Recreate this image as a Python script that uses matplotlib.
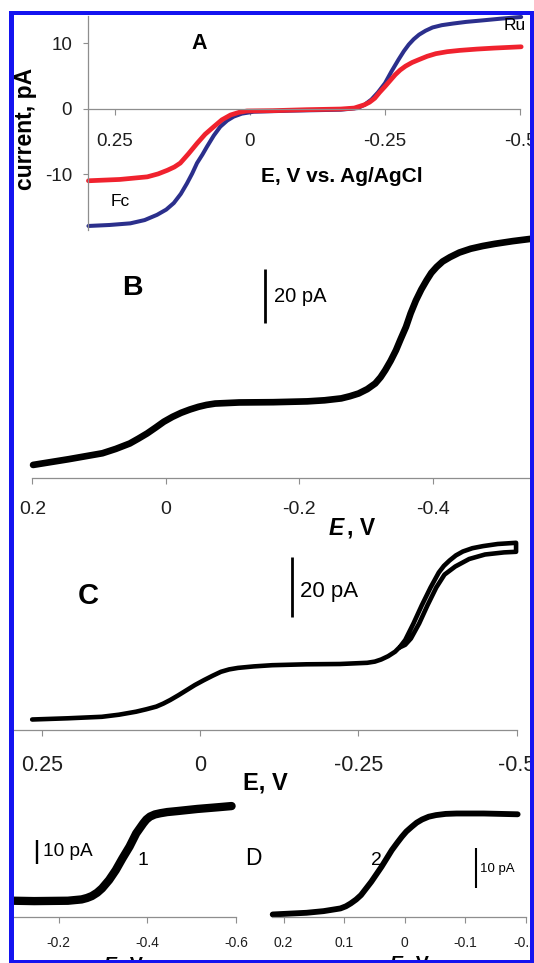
import matplotlib

matplotlib.use("Agg")

import matplotlib.pyplot as plt
from matplotlib.patches import Rectangle


# Panel A: steady-state voltammograms, two electrodes (pA vs V)
a_blue_E = [0.299, 0.26, 0.2215, 0.195, 0.172, 0.155, 0.141, 0.128, 0.1166, 0.107,
            0.098, 0.088, 0.0796, 0.067, 0.055, 0.042, 0.030, 0.015, -0.007, -0.04,
            -0.074, -0.168, -0.1995, -0.212, -0.2248, -0.237, -0.25, -0.262, -0.275,
            -0.285, -0.294, -0.303, -0.313, -0.325, -0.338, -0.355, -0.376, -0.40,
            -0.433, -0.465, -0.502]
a_blue_I = [-17.9, -17.75, -17.5, -17.0, -16.2, -15.4, -14.4, -13.0, -11.4, -9.9,
            -8.3, -7.0, -5.8, -4.1, -2.75, -1.8, -1.2, -0.75, -0.46, -0.38,
            -0.3, -0.15, 0.1, 0.6, 1.4, 2.5, 3.9, 5.7, 7.5,
            8.8, 9.8, 10.6, 11.3, 11.9, 12.4, 12.75, 13.0, 13.25,
            13.5, 13.75, 14.0]
a_red_E = [0.299, 0.241, 0.19, 0.17, 0.153, 0.14, 0.129, 0.114, 0.098, 0.083,
           0.067, 0.052, 0.036, 0.02, 0.0056, -0.042, -0.105, -0.168, -0.193,
           -0.212, -0.2215, -0.231, -0.24, -0.25, -0.26, -0.269, -0.278, -0.288,
           -0.30, -0.313, -0.328, -0.344, -0.365, -0.388, -0.42, -0.451, -0.502]
a_red_I = [-11.0, -10.8, -10.4, -9.95, -9.4, -8.9, -8.3, -6.9, -5.3, -3.9,
           -2.75, -1.7, -0.96, -0.55, -0.35, -0.3, -0.15, -0.05, 0.1,
           0.6, 1.0, 1.6, 2.5, 3.4, 4.35, 5.2, 5.9, 6.5,
           7.05, 7.5, 8.0, 8.4, 8.7, 8.9, 9.1, 9.25, 9.45]
a_xticks = [0.25, 0, -0.25, -0.5]
a_xlabels = ["0.25", "0", "-0.25", "-0.5"]
a_yticks = [-10, 0, 10]
a_ylabels = ["-10", "0", "10"]

# Panel B
b_E = [0.199, 0.146, 0.095, 0.075, 0.054, 0.041, 0.028, 0.015, 0.003, -0.01,
       -0.023, -0.036, -0.049, -0.061, -0.074, -0.110, -0.161, -0.212, -0.238,
       -0.263, -0.276, -0.289, -0.302, -0.314, -0.322, -0.329, -0.337, -0.345,
       -0.352, -0.360, -0.367, -0.375, -0.383, -0.391, -0.398, -0.406, -0.415,
       -0.426, -0.44, -0.457, -0.475, -0.493, -0.52, -0.549]
b_I = [4.7, 6.8, 9.0, 10.6, 12.6, 14.4, 16.3, 18.5, 20.6, 22.4,
       23.9, 25.1, 26.1, 26.8, 27.3, 27.7, 27.8, 28.1, 28.5,
       29.2, 30.0, 31.0, 32.6, 34.7, 37.0, 39.6, 43.0, 46.9,
       51.0, 55.5, 60.5, 65.3, 69.3, 72.7, 75.4, 77.6, 79.6,
       81.2, 82.9, 84.3, 85.3, 86.1, 87.1, 88.0]
b_xticks = [0.2, 0, -0.2, -0.4]
b_xlabels = ["0.2", "0", "-0.2", "-0.4"]

# Panel C: forward scan, then the return branch near the second wave
c_fwd_E = [0.265, 0.209, 0.155, 0.128, 0.101, 0.085, 0.069, 0.058, 0.047, 0.034,
           0.021, 0.008, -0.006, -0.02, -0.033, -0.046, -0.060, -0.085, -0.114,
           -0.168, -0.221, -0.264, -0.276, -0.286, -0.297, -0.308, -0.316, -0.324,
           -0.337, -0.350, -0.364, -0.377, -0.385, -0.394, -0.404, -0.415, -0.43,
           -0.447, -0.470, -0.499]
c_fwd_I = [3.5, 3.9, 4.4, 5.1, 6.1, 6.9, 7.8, 8.8, 10.0, 11.6,
           13.3, 15.0, 16.6, 18.1, 19.4, 20.2, 20.7, 21.2, 21.6,
           21.9, 22.0, 22.4, 22.8, 23.5, 24.6, 26.1, 27.8, 30.0,
           35.5, 41.5, 47.5, 52.5, 54.7, 56.5, 58.2, 59.5, 60.6,
           61.3, 62.0, 62.4]
c_rev_E = [-0.499, -0.48, -0.45, -0.425, -0.403, -0.386, -0.373, -0.359, -0.346,
           -0.333, -0.324, -0.316]
c_rev_I = [59.4, 59.2, 58.5, 57.0, 54.5, 51.8, 47.5, 41.5, 35.5,
           30.5, 28.4, 27.6]
c_xticks = [0.25, 0, -0.25, -0.5]
c_xlabels = ["0.25", "0", "-0.25", "-0.5"]

# Panel D: single waves 1 and 2
d1_E = [-0.099, -0.145, -0.221, -0.252, -0.264, -0.275, -0.287, -0.298, -0.314,
        -0.329, -0.344, -0.360, -0.375, -0.391, -0.398, -0.406, -0.417, -0.429,
        -0.445, -0.467, -0.513, -0.559, -0.590]
d1_I = [6.65, 6.5, 6.65, 7.2, 7.8, 8.6, 10.0, 11.8, 15.3,
        19.4, 24.3, 29.2, 34.7, 38.9, 40.5, 41.7, 42.6, 43.1,
        43.6, 44.0, 44.9, 45.6, 46.1]
d2_E = [0.218, 0.162, 0.134, 0.106, 0.097, 0.089, 0.08, 0.072, 0.055, 0.038,
        0.021, 0.012, 0.0045, -0.003, -0.012, -0.02, -0.029, -0.04, -0.052,
        -0.068, -0.086, -0.131, -0.187]
d2_I = [0.56, 0.98, 1.39, 2.07, 2.6, 3.32, 4.3, 5.4, 8.73, 12.5,
        16.65, 18.5, 19.98, 21.3, 22.5, 23.5, 24.3, 25.0, 25.4,
        25.7, 25.8, 25.8, 25.6]
d1_xticks = [-0.2, -0.4, -0.6]
d1_xlabels = ["-0.2", "-0.4", "-0.6"]
d2_xticks = [0.2, 0.1, 0, -0.1, -0.2]
d2_xlabels = ["0.2", "0.1", "0", "-0.1", "-0.2"]

W, H = 534, 963
GRAY = "#8e8e8e"
BLUE = "#2b2f8c"
RED = "#f0222e"
FRAME = "#1414f0"

plt.rcParams["font.family"] = ["Liberation Sans", "DejaVu Sans"]
plt.rcParams["axes.unicode_minus"] = False

fig = plt.figure(figsize=(W / 100, H / 100), dpi=100)


def box(left, top, right, bottom):
    return [left / W, 1 - bottom / H, (right - left) / W, (bottom - top) / H]


def put(x, y, s, **kw):
    kw.setdefault("ha", "center")
    kw.setdefault("va", "center")
    return fig.text(x / W, 1 - y / H, s, **kw)


def trace(ax, e, i, color="black", lw=3.0):
    ax.plot(e, i, color=color, lw=lw, clip_on=False,
            solid_capstyle="round", solid_joinstyle="round")


def bottom_axis(ax, ticks, labels, size, pad, length=4.3):
    for side in ("top", "right", "left"):
        ax.spines[side].set_visible(False)
    ax.spines["bottom"].set_color(GRAY)
    ax.spines["bottom"].set_linewidth(0.9)
    ax.set_xticks(ticks)
    ax.set_xticklabels(labels)
    ax.set_yticks([])
    ax.tick_params(axis="x", direction="out", length=length, width=0.8,
                   color=GRAY, labelsize=size, pad=pad, labelcolor="#1e1e1e")
    ax.patch.set_alpha(0)


def scale_bar(ax, e, i0, span, lw):
    ax.plot([e, e], [i0, i0 + span], color="black", lw=lw, solid_capstyle="butt")


# --- A ---
ax = fig.add_axes(box(87.9, 16, 520.1, 229.9))
ax.set_xlim(0.3, -0.5)
ax.set_ylim(-18.5, 14.15)
trace(ax, a_blue_E, a_blue_I, color=BLUE, lw=2.9)
trace(ax, a_red_E, a_red_I, color=RED, lw=3.4)
for side in ("top", "right"):
    ax.spines[side].set_visible(False)
ax.spines["bottom"].set_position(("data", 0))
for side in ("bottom", "left"):
    ax.spines[side].set_color(GRAY)
    ax.spines[side].set_linewidth(0.9)
ax.set_xticks(a_xticks)
ax.set_xticklabels(a_xlabels)
ax.set_yticks(a_yticks)
ax.set_yticklabels(a_ylabels)
ax.tick_params(axis="x", direction="out", length=4.3, width=0.8, color=GRAY,
               labelsize=13.5, pad=13.4, labelcolor="#1e1e1e")
ax.tick_params(axis="y", direction="out", length=3.6, width=0.8, color=GRAY,
               labelsize=13.5, pad=7.8, labelcolor="#1e1e1e")
ax.patch.set_alpha(0)
put(199, 43.3, "A", fontsize=15.5, fontweight="bold")
put(341.5, 176.7, "E, V vs. Ag/AgCl", fontsize=15, fontweight="bold")
put(515, 25, "Ru", fontsize=12.5)
put(120.5, 201, "Fc", fontsize=12.5)
put(25.5, 129, "current, pA", fontsize=16.5, fontweight="bold", rotation=90)

# --- B ---
ax = fig.add_axes(box(32.4, 230, 532.7, 477.7))
ax.set_xlim(0.2, -0.55)
ax.set_ylim(0, 91.2)
trace(ax, b_E, b_I, lw=4.8)
bottom_axis(ax, b_xticks, b_xlabels, 14, 12.7)
scale_bar(ax, -0.149, 57.0, 20, 2.0)
put(132.8, 288.3, "B", fontsize=20.5, fontweight="bold")
put(274, 296, "20 pA", fontsize=14.5, ha="left")
put(344, 528.3, "E", fontsize=16.5, fontweight="bold", fontstyle="italic", ha="right")
put(347, 528.3, ", V", fontsize=16.5, fontweight="bold", ha="left")

# --- C ---
ax = fig.add_axes(box(14.3, 532, 516.7, 730))
ax.set_xlim(0.2932, -0.5)
ax.set_ylim(0, 66)
trace(ax, c_fwd_E + c_rev_E, c_fwd_I + c_rev_I, lw=3.3)
bottom_axis(ax, c_xticks, c_xlabels, 15.5, 13.9)
scale_bar(ax, -0.1446, 37.8, 20, 2.0)
put(87.9, 596, "C", fontsize=21, fontweight="bold")
put(299.7, 591, "20 pA", fontsize=16, ha="left")
put(265, 783.3, "E, V", fontsize=17, fontweight="bold")

# --- D ---
ax = fig.add_axes(box(14.2, 796.7, 236, 916.7))
ax.set_xlim(-0.1, -0.6)
ax.set_ylim(0, 50)
trace(ax, d1_E, d1_I, lw=6.0)
bottom_axis(ax, d1_xticks, d1_xlabels, 10, 9.9, length=4.0)
scale_bar(ax, -0.1524, 22.0, 10, 1.7)

ax = fig.add_axes(box(271.5, 796.7, 525.5, 916.7))
ax.set_xlim(0.22, -0.2)
ax.set_ylim(0, 30)
trace(ax, d2_E, d2_I, lw=4.2)
bottom_axis(ax, d2_xticks, d2_xlabels, 10, 9.9, length=4.0)
scale_bar(ax, -0.1183, 7.1, 10, 1.5)

put(42.6, 851, "10 pA", fontsize=13.7, ha="left")
put(143, 860, "1", fontsize=14)
put(253.7, 858.3, "D", fontsize=16.5)
put(376.4, 860, "2", fontsize=14)
put(479.6, 869, "10 pA", fontsize=9.5, ha="left")
put(117, 957, "E", fontsize=14, fontweight="bold", fontstyle="italic", ha="right", va="top")
put(119, 957, ", V", fontsize=14, fontweight="bold", ha="left", va="top")
put(403, 956, "E", fontsize=14, fontweight="bold", fontstyle="italic", ha="right", va="top")
put(405, 956, ", V", fontsize=14, fontweight="bold", ha="left", va="top")

# blue border round the whole figure, with white outside it
for x0, y0, x1, y1, col in [
    (533.5, 0, 534, 963, "white"),
    (0, 0, 9, 963, "white"),
    (0, 0, 534, 10.7, "white"),
    (9, 10.7, 14, 963, FRAME),
    (9, 10.7, 533.5, 15, FRAME),
    (529.5, 10.7, 533.5, 963, FRAME),
    (9, 960, 533.5, 963, FRAME),
]:
    fig.add_artist(Rectangle((x0 / W, 1 - y1 / H), (x1 - x0) / W, (y1 - y0) / H,
                             transform=fig.transFigure, facecolor=col,
                             edgecolor="none", zorder=20))

fig.savefig("out.png", dpi=100)
